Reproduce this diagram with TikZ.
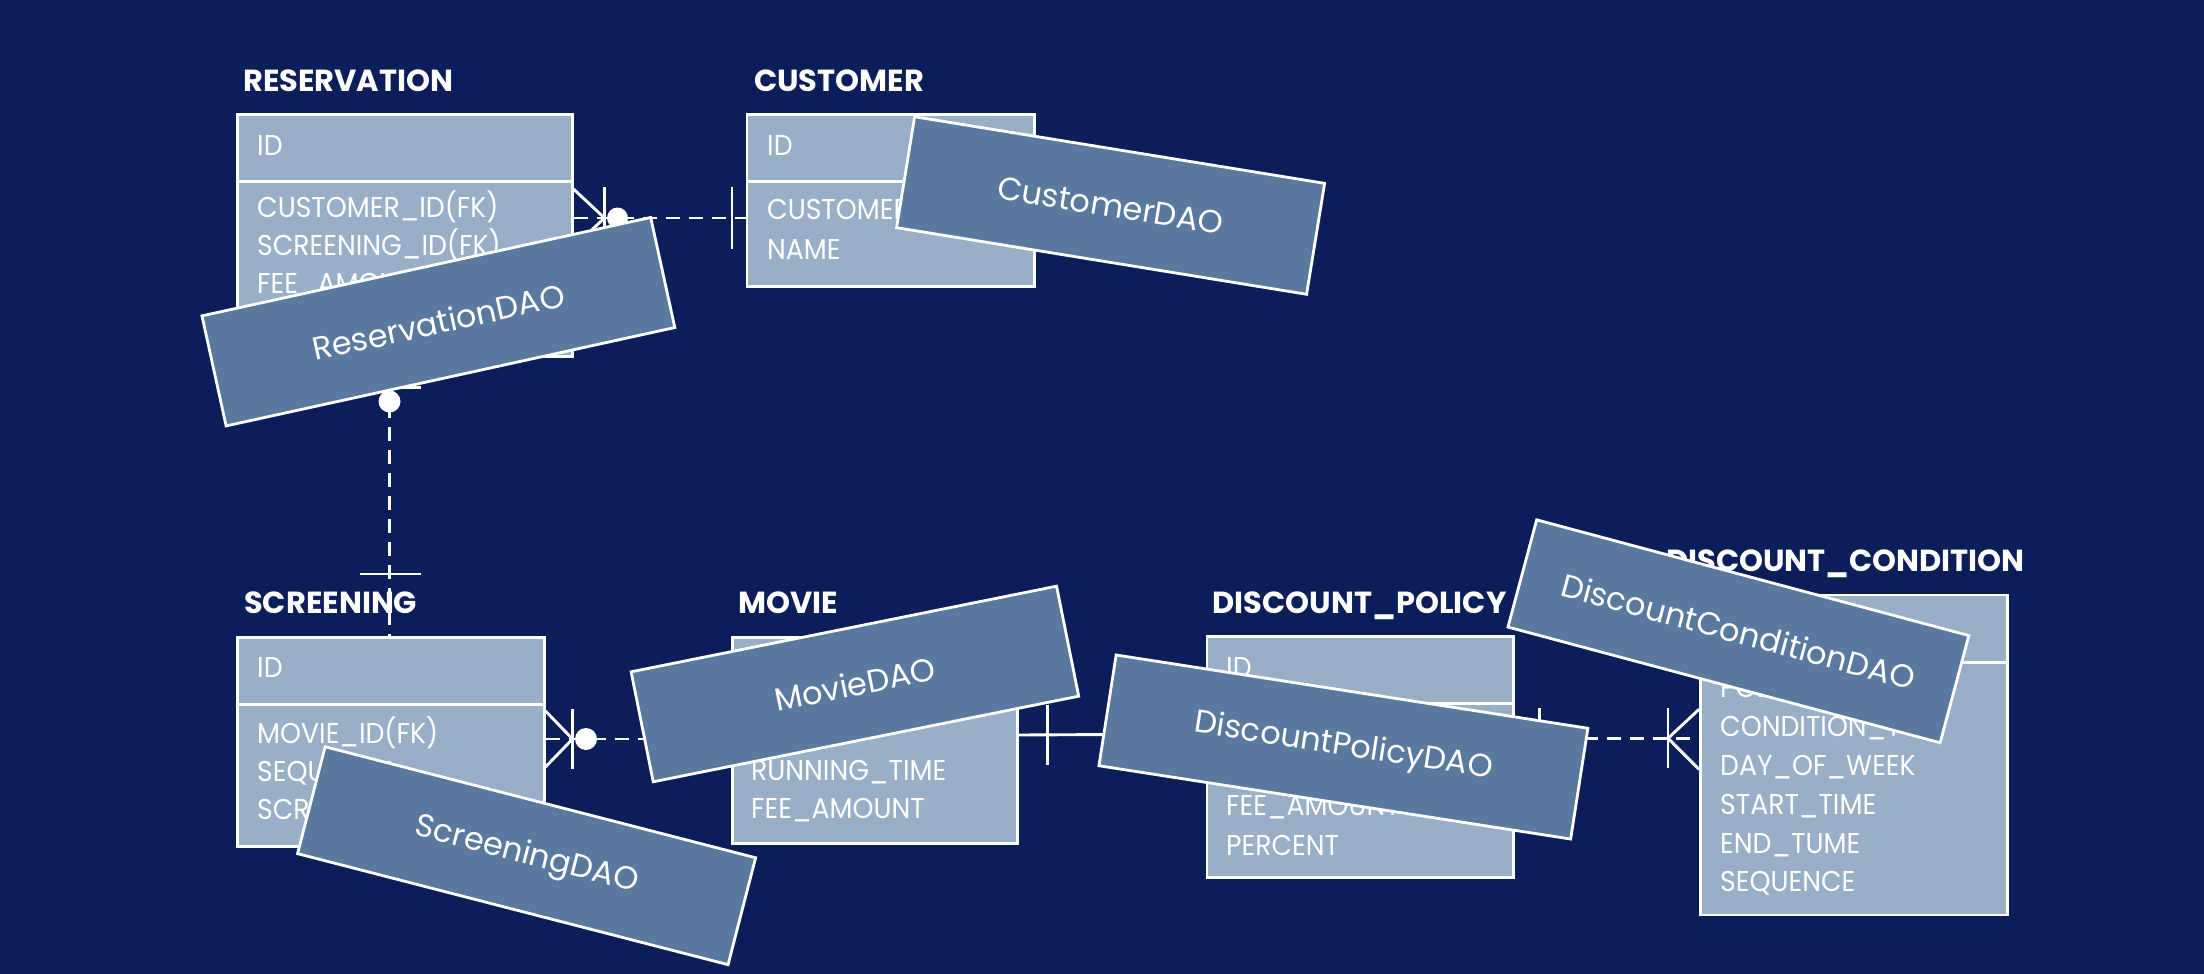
\documentclass[tikz,border=0pt]{standalone}
\usepackage{fontspec}
\setmainfont{Poppins}
\newfontfamily\tabfont[FakeStretch=0.93]{Poppins}
\newfontfamily\ttlfont{Poppins}
\newfontfamily\daofont{Poppins}
\usetikzlibrary{calc}
\definecolor{bg}{HTML}{0B1E5A}
\definecolor{tabfill}{HTML}{99AEC7}
\definecolor{daofill}{HTML}{5A799E}
\tikzset{
  tabrect/.style={draw=white, line width=2.5pt, fill=tabfill, inner sep=0pt, anchor=north west},
  rowtext/.style={text=white, inner sep=0pt, anchor=base west, font=\tabfont\fontsize{28.7pt}{30pt}\selectfont},
  titletext/.style={text=white, inner sep=0pt, anchor=base west, font=\ttlfont\bfseries\fontsize{30.5pt}{32pt}\selectfont},
  daobox/.style={draw=white, line width=2.8pt, fill=daofill, inner sep=0pt, text=white, font=\daofont\fontsize{32pt}{34pt}\selectfont},
  conn/.style={draw=white, line width=2.9pt},
  dashconn/.style={conn, dash pattern=on 14pt off 9pt},
}
\begin{document}
\begin{tikzpicture}[x=1pt,y=-1pt]
\useasboundingbox (0,0) rectangle (2204,974);
\fill[bg] (0,0) rectangle (2204,974);

% ---------- RESERVATION ----------
\node[titletext] (res-title) at (243,92) {RESERVATION};
\node[tabrect, minimum width=335pt, minimum height=67pt] (res-h) at (236,113) {};
\node[tabrect, minimum width=335pt, minimum height=175pt] (res-b) at (236,180) {};
\node[rowtext] (res-r0) at (257,155) {ID};
\node[rowtext] (res-r1) at (257,217) {CUSTOMER\_ID(FK)};
\node[rowtext] (res-r2) at (257,255) {SCREENING\_ID(FK)};
\node[rowtext] (res-r3) at (257,293) {FEE\_AMOUNT};

% ---------- CUSTOMER ----------
\node[titletext] (cus-title) at (754,92) {CUSTOMER};
\node[tabrect, minimum width=287.5pt, minimum height=67pt] (cus-h) at (745.5,113) {};
\node[tabrect, minimum width=287.5pt, minimum height=105pt] (cus-b) at (745.5,180) {};
\node[rowtext] (cus-r0) at (767,155) {ID};
\node[rowtext] (cus-r1) at (767,219) {CUSTOMER\_ID};
\node[rowtext] (cus-r2) at (767,259) {NAME};

% ---------- SCREENING ----------
\node[titletext] (scr-title) at (244,613) {SCREENING};
\node[tabrect, minimum width=307pt, minimum height=67pt] (scr-h) at (236,636) {};
\node[tabrect, minimum width=307pt, minimum height=142pt] (scr-b) at (236,703) {};
\node[rowtext] (scr-r0) at (257,677) {ID};
\node[rowtext] (scr-r1) at (257,743) {MOVIE\_ID(FK)};
\node[rowtext] (scr-r2) at (257,781) {SEQUENCE};
\node[rowtext] (scr-r3) at (257,819) {SCREENING\_TIME};

% ---------- MOVIE ----------
\node[titletext] (mov-title) at (738,613) {MOVIE};
\node[tabrect, minimum width=285pt, minimum height=67pt] (mov-h) at (731,636) {};
\node[tabrect, minimum width=285pt, minimum height=139pt] (mov-b) at (731,703) {};
\node[rowtext] (mov-r2) at (751,780) {RUNNING\_TIME};
\node[rowtext] (mov-r3) at (751,818) {FEE\_AMOUNT};

% ---------- DISCOUNT_POLICY ----------
\node[titletext] (dp-title) at (1212.6,613) {DISCOUNT\_POLICY};
\node[tabrect, minimum width=306.5pt, minimum height=67pt] (dp-h) at (1205.5,635) {};
\node[tabrect, minimum width=306.5pt, minimum height=174pt] (dp-b) at (1205.5,702) {};
\node[rowtext] (dp-r0) at (1226,677) {ID};
\node[rowtext] (dp-r3) at (1226,815) {FEE\_AMOUNT};
\node[rowtext] (dp-r4) at (1226,855) {PERCENT};

% ---------- DISCOUNT_CONDITION ----------
\node[titletext] (dc-title) at (1666,571) {DISCOUNT\_CONDITION};
\node[tabrect, minimum width=307pt, minimum height=67.5pt] (dc-h) at (1699,593.5) {};
\node[tabrect, minimum width=307pt, minimum height=252.5pt] (dc-b) at (1699,661) {};
\node[rowtext] (dc-r1) at (1720,697) {POLICY\_ID(FK)};
\node[rowtext] (dc-r2) at (1720,736.5) {CONDITION\_TYPE};
\node[rowtext] (dc-r3) at (1720,775) {DAY\_OF\_WEEK};
\node[rowtext] (dc-r4) at (1720,814) {START\_TIME};
\node[rowtext] (dc-r5) at (1720,853) {END\_TUME};
\node[rowtext] (dc-r6) at (1720,891) {SEQUENCE};

% ---------- connection points ----------
\coordinate (p1) at ($(res-b.north east)+(0,38)$);
\coordinate (p2) at ($(cus-b.north west)+(0,38)$);
\coordinate (q1) at ($(res-b.south west)+(153.5,0)$);
\coordinate (q2) at ($(scr-h.north west)+(153.5,0)$);
\coordinate (r1) at ($(scr-b.north east)+(0,36)$);
\coordinate (r2) at ($(mov-b.north west)+(0,36)$);
\coordinate (s1) at ($(mov-b.north east)+(0,32)$);
\coordinate (s2) at ($(dp-b.north west)+(0,32)$);
\coordinate (t1) at ($(dp-b.north east)+(0,36.3)$);
\coordinate (t2) at ($(dc-b.north west)+(0,77.3)$);

% RESERVATION -- CUSTOMER
\draw[dashconn] (p1) -- (p2);
\draw[conn] ($(p1)+(0,-29)$) -- ($(p1)+(31,0)$) -- ($(p1)+(0,29)$);
\draw[conn] ($(p1)+(31,-31)$) -- ($(p1)+(31,31)$);
\fill[white] ($(p1)+(44,0)$) circle[radius=10.5pt];
\draw[conn] ($(p2)+(-13.5,-31)$) -- ($(p2)+(-13.5,31)$);

% RESERVATION -- SCREENING
\draw[dashconn] (q1) -- (q2);
\draw[conn] ($(q1)+(-29,0)$) -- ($(q1)+(0,30)$) -- ($(q1)+(29,0)$);
\draw[conn] ($(q1)+(-30.5,30)$) -- ($(q1)+(31.5,30)$);
\fill[white] ($(q1)+(0,44)$) circle[radius=11pt];
\draw[conn] ($(q2)+(-30,-62)$) -- ($(q2)+(31.5,-62)$);

% SCREENING -- MOVIE
\draw[dashconn] (r1) -- (r2);
\draw[conn] ($(r1)+(0,-28)$) -- ($(r1)+(27,0)$) -- ($(r1)+(0,28)$);
\draw[conn] ($(r1)+(27,-30)$) -- ($(r1)+(27,30)$);
\fill[white] ($(r1)+(40.5,0)$) circle[radius=11pt];

% MOVIE -- DISCOUNT_POLICY
\draw[conn] (s1) -- (s2);
\draw[conn] ($(s1)+(29,-30)$) -- ($(s1)+(29,30)$);

% DISCOUNT_POLICY -- DISCOUNT_CONDITION
\draw[dashconn] (t1) -- (t2);
\draw[conn] ($(t1)+(25,-30)$) -- ($(t1)+(25,30)$);
\draw[conn] ($(t2)+(-31,-30)$) -- ($(t2)+(-31,30)$);
\draw[conn] ($(t2)+(0,-29)$) -- ($(t2)+(-31,0)$) -- ($(t2)+(0,31)$);

% ---------- DAO boxes ----------
\node[daobox, minimum width=459.4pt, minimum height=112.7pt, rotate=12.37] (resdao) at (438.4,321.7) {ReservationDAO};
\node[daobox, minimum width=415.4pt, minimum height=112.4pt, rotate=-9.23] (cusdao) at (1110.6,205.5) {CustomerDAO};
\node[daobox, minimum width=444.6pt, minimum height=110.4pt, rotate=-14.46] (scrdao) at (526.6,855.7) {ScreeningDAO};
\node[daobox, minimum width=434pt, minimum height=112.2pt, rotate=11.38] (movdao) at (854.9,684) {MovieDAO};
\node[daobox, minimum width=477.4pt, minimum height=112.1pt, rotate=-8.83] (dpdao) at (1343.4,747) {DiscountPolicyDAO};
\node[daobox, minimum width=447.4pt, minimum height=111pt, rotate=-14.99] (dcdao) at (1738.4,631.3) {DiscountConditionDAO};
\end{tikzpicture}
\end{document}
